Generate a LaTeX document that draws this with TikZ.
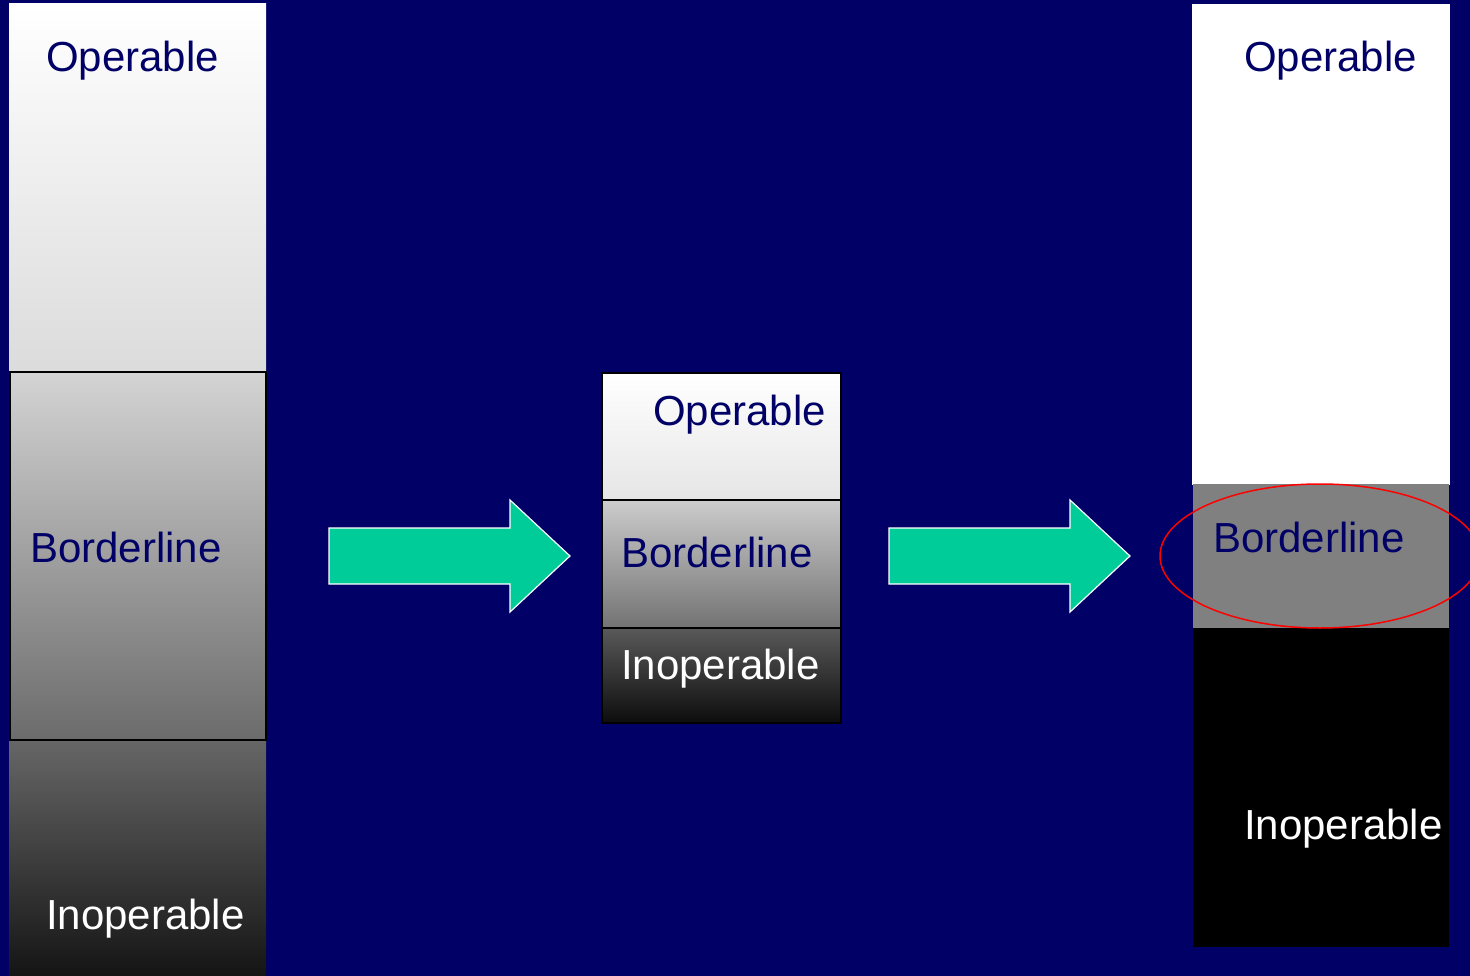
\documentclass[tikz,border=0pt]{standalone}
\usepackage{fontspec}
\setmainfont{Liberation Sans}
\definecolor{navy}{HTML}{000066}
\definecolor{teal}{HTML}{00CC99}
\begin{document}
\begin{tikzpicture}[x=1pt,y=-1pt,
  lbl/.style={anchor=base west, inner sep=0pt, font=\fontsize{42}{50}\selectfont, text=navy},
  wlbl/.style={lbl, text=white},
  bar/.style={draw=black, line width=1.5pt},
  blockarrow/.style={fill=teal, draw=white, line width=1.2pt, line join=miter}]
\useasboundingbox (0,0) rectangle (1470,976);
\clip (0,0) rectangle (1470,976);
\fill[navy] (0,0) rectangle (1470,976);
% left column
\shade[top color=white, bottom color=black!14] (9,4) rectangle (266,372);
\shade[top color=black!17, bottom color=black!58] (10,372) rectangle (266,740);
\draw[bar] (10,372) rectangle (266,740);
\shade[top color=black!60, bottom color=black!92] (9,741) rectangle (266,976);
\node[lbl] (lop) at (46,72) {Operable};
\node[lbl] (lbo) at (30,562) {Borderline};
\node[wlbl] (lin) at (46,929) {Inoperable};
% middle column
\shade[top color=white, bottom color=black!10] (602,373) rectangle (841,500);
\shade[top color=black!20, bottom color=black!55] (602,500) rectangle (841,628);
\shade[top color=black!65, bottom color=black!95] (602,628) rectangle (841,723);
\draw[bar] (602,373) rectangle (841,723);
\draw[bar] (602,500) -- (841,500);
\draw[bar] (602,628) -- (841,628);
\node[lbl] (mop) at (653,425) {Operable};
\node[lbl] (mbo) at (621,567) {Borderline};
\node[wlbl] (min) at (621,679) {Inoperable};
% right column
\fill[white] (1192,4) rectangle (1450,485);
\fill[black!50] (1193,484) rectangle (1449,628);
\fill[black] (1193,628) rectangle (1449,947);
\node[lbl] (rop) at (1244,72) {Operable};
\node[lbl] (rbo) at (1213,552) {Borderline};
\node[wlbl] (rin) at (1244,839) {Inoperable};
\draw[red, line width=1.5pt] (1320,556) ellipse [x radius=160, y radius=72];
% arrows
\draw[blockarrow] (329,528) -- (510,528) -- (510,500) -- (570,556) -- (510,612) -- (510,584) -- (329,584) -- cycle;
\draw[blockarrow] (889,528) -- (1070,528) -- (1070,500) -- (1130,556) -- (1070,612) -- (1070,584) -- (889,584) -- cycle;
\end{tikzpicture}
\end{document}
